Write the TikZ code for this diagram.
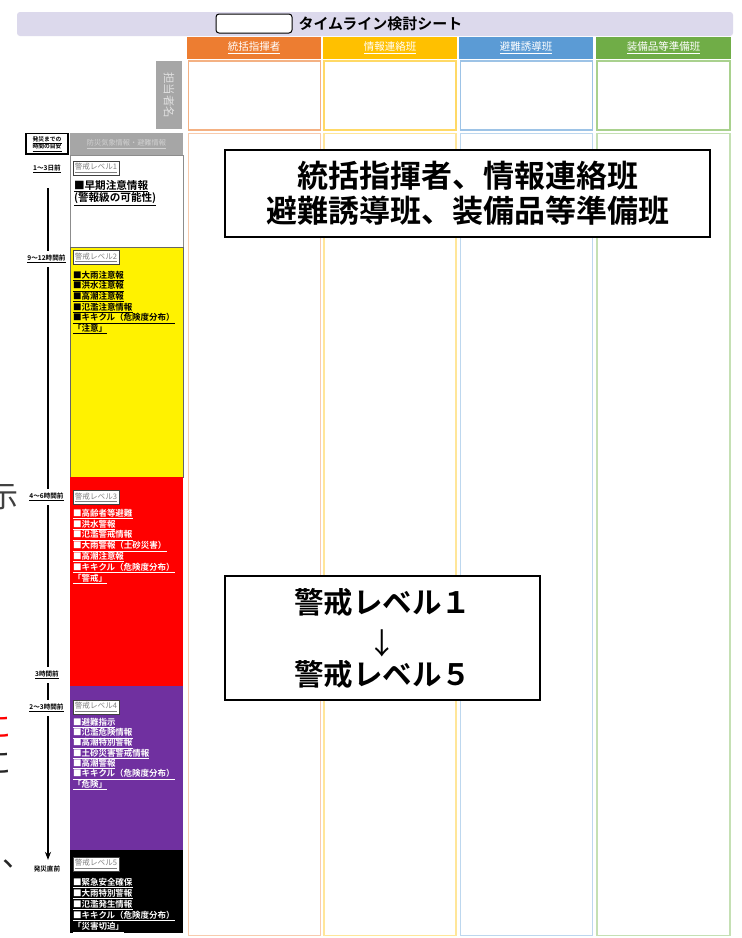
\documentclass[tikz,border=0pt]{standalone}
\usepackage{fontspec}
\setmainfont{Noto Sans CJK JP}[BoldFont={Noto Sans CJK JP Bold}]
\usetikzlibrary{arrows.meta}
\definecolor{lav}{HTML}{DCD9EC}
\definecolor{cor}{HTML}{ED7D31}
\definecolor{cye}{HTML}{FFC000}
\definecolor{cbl}{HTML}{5B9BD5}
\definecolor{cgr}{HTML}{70AD47}
\definecolor{mor}{HTML}{F4B183}
\definecolor{mye}{HTML}{FFD966}
\definecolor{mbl}{HTML}{9DC3E6}
\definecolor{mgr}{HTML}{A9D18E}
\definecolor{lor}{HTML}{F8CBAD}
\definecolor{lye}{HTML}{FFE699}
\definecolor{lbl}{HTML}{BDD7EE}
\definecolor{lgr}{HTML}{C5E0B4}
\definecolor{gry}{HTML}{A6A6A6}
\definecolor{pur}{HTML}{7030A0}
\tikzset{
  lvtext/.style={anchor=north west, align=left, font=\bfseries\fontsize{8.5}{#1}\selectfont},
  lvlabel/.style={draw=black!75, fill=white, line width=0.8pt, minimum width=46pt, minimum height=14pt, anchor=north west, text=black!50, font=\fontsize{7.6}{7.6}\selectfont},
  tlabel/.style={font=\bfseries\fontsize{6.6}{6.6}\selectfont},
  hdr/.style={text=white, font=\fontsize{10.5}{10.5}\selectfont},
  tl/.style={line width=2pt, shorten <=4pt, shorten >=4pt},
  bigbox/.style={draw, line width=1.5pt, fill=white, align=center},
  frag/.style={font=\fontsize{30}{30}\selectfont},
}
\begin{document}
\begin{tikzpicture}[x=1pt,y=-1pt, every node/.style={inner sep=0pt, outer sep=0pt}]
\useasboundingbox (0,0) rectangle (742,938);
\fill[white] (0,0) rectangle (742,938);

% fragments at left edge
\node[frag, text=black!75] (f1) at (3,497) {示};
\node[frag, text=red] (f2) at (-3,727) {に};
\node[frag, text=black!85] (f3) at (-3,763) {に};
\node[frag, text=black!85, anchor=base west] (f4) at (2,866) {、};

% title bar
\fill[lav, rounded corners=3pt] (17,12) rectangle (733,36);
\draw[rounded corners=3pt, fill=white, line width=1pt] (216,14) rectangle (292,33);
\node[font=\bfseries\fontsize{15}{15}\selectfont] (ttl) at (380.5,23.5) {タイムライン検討シート};

% column headers
\fill[cor] (187,37) rectangle (321,59);
\fill[cye] (323,37) rectangle (457,59);
\fill[cbl] (459,37) rectangle (593,59);
\fill[cgr] (596,37) rectangle (731,59);
\node[hdr] (h1) at (254,48) {\underline{統括指揮者}};
\node[hdr] (h2) at (390,48) {\underline{情報連絡班}};
\node[hdr] (h3) at (526,48) {\underline{避難誘導班}};
\node[hdr] (h4) at (663.5,48) {\underline{装備品等準備班}};

% name row
\draw[mor, line width=1.5pt] (188.5,61) rectangle (320.5,130);
\draw[mye, line width=1.5pt] (324,61) rectangle (456,130);
\draw[mbl, line width=1.5pt] (460.5,61) rectangle (592.5,130);
\draw[mgr, line width=1.5pt] (597,61) rectangle (730,130);
\fill[gry] (156,61) rectangle (182,129);
\node[rotate=-90, text=black!12, font=\fontsize{11.5}{11.5}\selectfont] (nm) at (169,95) {担当者名};

% column bodies
\draw[lor, line width=1.2pt] (188.5,133.5) rectangle (320.5,935.5);
\draw[lye, line width=1.2pt] (324,133.5) rectangle (456,935.5);
\draw[lbl, line width=1.2pt] (460.5,133.5) rectangle (592.5,935.5);
\draw[lgr, line width=1.2pt] (597,133.5) rectangle (730,935.5);

% left panel headers
\draw[line width=1.2pt, fill=white] (26,133.5) rectangle (68,154);
\node[align=center, font=\bfseries\fontsize{5.8}{7.5}\selectfont] (hm) at (47,144) {\underline{発災までの}\\\underline{時間の目安}};
\fill[gry] (70,133) rectangle (183,155);
\node[text=black!18, font=\fontsize{7.2}{7.2}\selectfont] (hj) at (126.5,144) {\underline{防災気象情報・避難情報}};

% level blocks
\draw[black!45, fill=white] (70,155) rectangle (183,247);
\draw[black!60, fill=yellow] (70,247) rectangle (183,477);
\fill[red] (70,477) rectangle (183,686);
\fill[pur] (70,686) rectangle (183,850);
\fill[black] (70,850) rectangle (183,933);

\node[lvlabel] (l1) at (73,161) {\underline{警戒レベル1}};
\node[anchor=north west, align=left, font=\bfseries\fontsize{10.6}{12.2}\selectfont] (x1) at (74,180)
  {\underline{■早期注意情報}\\\underline{(警報級の可能性)}};

\node[lvlabel] (l2) at (73,250.5) {\underline{警戒レベル2}};
\node[lvtext=10.6] (x2) at (73,271)
  {\underline{■大雨注意報}\\\underline{■洪水注意報}\\\underline{■高潮注意報}\\\underline{■氾濫注意情報}\\\underline{■キキクル（危険度分布）}\\\underline{「注意」}};

\node[lvlabel] (l3) at (73,490.5) {\underline{警戒レベル3}};
\node[lvtext=10.8, text=white] (x3) at (73,509)
  {\underline{■高齢者等避難}\\\underline{■洪水警報}\\\underline{■氾濫警戒情報}\\\underline{■大雨警報（土砂災害）}\\\underline{■高潮注意報}\\\underline{■キキクル（危険度分布）}\\\underline{「警戒」}};

\node[lvlabel] (l4) at (73,700) {\underline{警戒レベル4}};
\node[lvtext=10.3, text=white] (x4) at (73,718)
  {\underline{■避難指示}\\\underline{■氾濫危険情報}\\\underline{■高潮特別警報}\\\underline{■土砂災害警戒情報}\\\underline{■高潮警報}\\\underline{■キキクル（危険度分布）}\\\underline{「危険」}};

\node[lvlabel] (l5) at (73,857) {\underline{警戒レベル5}};
\node[lvtext=10, text=white] (x5) at (73,878)
  {\underline{■緊急安全確保}\\\underline{■大雨特別警報}\\\underline{■氾濫発生情報}\\\underline{■キキクル（危険度分布）}\\\underline{「災害切迫」}};

% time labels
\node[tlabel] (t1) at (47,169) {\underline{1～3日前}};
\node[tlabel] (t2) at (46.5,259) {\underline{9～12時間前}};
\node[tlabel] (t3) at (46.5,497) {\underline{4～6時間前}};
\node[tlabel] (t4) at (47,675) {\underline{3時間前}};
\node[tlabel] (t5) at (46.5,708) {\underline{2～3時間前}};
\node[tlabel] (t6) at (47,869) {発災直前};

\draw[tl, shorten <=15pt] (t1.south -| 48,0) -- (t2.north -| 48,0);
\draw[tl] (t2.south -| 48,0) -- (t3.north -| 48,0);
\draw[tl] (t3.south -| 48,0) -- (t4.north -| 48,0);
\draw[tl] (t4.south -| 48,0) -- (t5.north -| 48,0);
\draw[tl, shorten >=6pt, -{Stealth[length=8pt,width=6pt]}] (t5.south -| 48,0) -- (t6.north -| 48,0);

% big boxes
\node[bigbox, minimum width=485pt, minimum height=87pt, font=\bfseries\fontsize{31}{35}\selectfont] (b1) at (467.5,193.5)
  {統括指揮者、情報連絡班\\避難誘導班、装備品等準備班};
\node[bigbox, minimum width=315pt, minimum height=124pt, font=\bfseries\fontsize{29.5}{36}\selectfont] (b2) at (382.5,638)
  {警戒レベル１\\\raisebox{-5pt}{\mdseries ↓}\\警戒レベル５};
\end{tikzpicture}
\end{document}
